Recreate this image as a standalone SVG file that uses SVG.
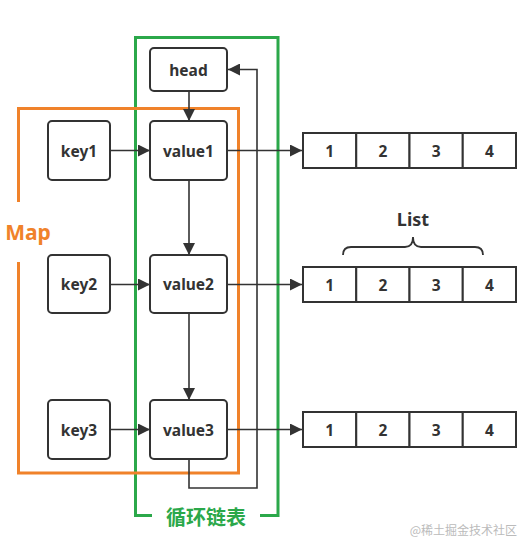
<svg xmlns="http://www.w3.org/2000/svg" width="532" height="550" viewBox="0 0 532 550">
<defs>
<marker id="ah" viewBox="0 0 10 10" refX="10" refY="5" markerWidth="12" markerHeight="12" markerUnits="userSpaceOnUse" orient="auto">
<path d="M0,0 L10,5 L0,10 Z" fill="#333"/>
</marker>
<style>
.node{fill:#fff;stroke:#333;stroke-width:2}
.cell{fill:#fff;stroke:#333;stroke-width:2}
.lbl{font-family:"Noto Sans","Open Sans",sans-serif;font-weight:bold;font-size:15.5px;fill:#333;text-anchor:middle;dominant-baseline:central}
.conn{fill:none;stroke:#333;stroke-width:1.6}
</style>
</defs>
<rect width="532" height="550" fill="#fff"/>
<!-- green linked list frame -->
<g id="linkedlist-frame">
<path d="M152,515.5 H135.5 V37.5 H278 V515.5 H260" fill="none" stroke="#2ba84a" stroke-width="3"/>
<text x="206" y="516" font-family="'Noto Sans CJK SC',sans-serif" font-weight="bold" font-size="20" fill="#2ba84a" text-anchor="middle" dominant-baseline="central">循环链表</text>
</g>
<!-- orange map frame -->
<g id="map-frame">
<path d="M18.5,202 V108.5 H238.5 V473 H18.5 V262" fill="none" stroke="#f0822a" stroke-width="3"/>
<text x="28" y="232" font-family="'Noto Sans','Open Sans',sans-serif" font-weight="bold" font-size="21" fill="#f0822a" text-anchor="middle" dominant-baseline="central">Map</text>
</g>
<g id="connectors">
<line class="conn" x1="110" y1="150.5" x2="150" y2="150.5" marker-end="url(#ah)"/>
<line class="conn" x1="110" y1="284.5" x2="150" y2="284.5" marker-end="url(#ah)"/>
<line class="conn" x1="110" y1="429.5" x2="150" y2="429.5" marker-end="url(#ah)"/>
<line class="conn" x1="189" y1="91" x2="189" y2="121" marker-end="url(#ah)"/>
<line class="conn" x1="189" y1="180" x2="189" y2="255" marker-end="url(#ah)"/>
<line class="conn" x1="189" y1="313" x2="189" y2="400" marker-end="url(#ah)"/>
<path class="conn" d="M189,459 V488 H257 V69.5 H228" stroke="#555" marker-end="url(#ah)"/>
<line class="conn" x1="227" y1="150.5" x2="302" y2="150.5" marker-end="url(#ah)"/>
<line class="conn" x1="227" y1="284.5" x2="302" y2="284.5" marker-end="url(#ah)"/>
<line class="conn" x1="227" y1="429.5" x2="302" y2="429.5" marker-end="url(#ah)"/>
</g>
<g id="head"><rect class="node" x="150" y="48" width="77" height="43" rx="4"/><text class="lbl" x="188.5" y="69.5">head</text></g>
<g id="key1"><rect class="node" x="48" y="121" width="62" height="59" rx="4"/><text class="lbl" x="79" y="150.5">key1</text></g>
<g id="value1"><rect class="node" x="150" y="121" width="77" height="59" rx="4"/><text class="lbl" x="188.5" y="150.5">value1</text></g>
<g id="key2"><rect class="node" x="48" y="255" width="62" height="58" rx="4"/><text class="lbl" x="79" y="284">key2</text></g>
<g id="value2"><rect class="node" x="150" y="255" width="77" height="58" rx="4"/><text class="lbl" x="188.5" y="284">value2</text></g>
<g id="key3"><rect class="node" x="48" y="400" width="62" height="59" rx="4"/><text class="lbl" x="79" y="429.5">key3</text></g>
<g id="value3"><rect class="node" x="150" y="400" width="77" height="59" rx="4"/><text class="lbl" x="188.5" y="429.5">value3</text></g>
<g id="list1">
<rect class="cell" x="303" y="133" width="53.25" height="35"/><rect class="cell" x="356.25" y="133" width="53.25" height="35"/><rect class="cell" x="409.5" y="133" width="53.25" height="35"/><rect class="cell" x="462.75" y="133" width="53.25" height="35"/>
<text class="lbl" x="329.6" y="150.5">1</text><text class="lbl" x="382.9" y="150.5">2</text><text class="lbl" x="436.1" y="150.5">3</text><text class="lbl" x="489.4" y="150.5">4</text>
</g>
<g id="list-label">
<text x="413" y="219" font-family="'Noto Sans','Open Sans',sans-serif" font-weight="bold" font-size="18" fill="#333" text-anchor="middle" dominant-baseline="central">List</text>
<path d="M343,255 Q343,247 351,247 H405 Q413,247 413,237 Q413,247 421,247 H475 Q483,247 483,255" fill="none" stroke="#333" stroke-width="1.8"/>
</g>
<g id="list2">
<rect class="cell" x="303" y="267" width="53.25" height="35"/><rect class="cell" x="356.25" y="267" width="53.25" height="35"/><rect class="cell" x="409.5" y="267" width="53.25" height="35"/><rect class="cell" x="462.75" y="267" width="53.25" height="35"/>
<text class="lbl" x="329.6" y="284.5">1</text><text class="lbl" x="382.9" y="284.5">2</text><text class="lbl" x="436.1" y="284.5">3</text><text class="lbl" x="489.4" y="284.5">4</text>
</g>
<g id="list3">
<rect class="cell" x="303" y="412" width="53.25" height="35"/><rect class="cell" x="356.25" y="412" width="53.25" height="35"/><rect class="cell" x="409.5" y="412" width="53.25" height="35"/><rect class="cell" x="462.75" y="412" width="53.25" height="35"/>
<text class="lbl" x="329.6" y="429.5">1</text><text class="lbl" x="382.9" y="429.5">2</text><text class="lbl" x="436.1" y="429.5">3</text><text class="lbl" x="489.4" y="429.5">4</text>
</g>
<text x="517" y="529" font-family="'Noto Sans CJK SC',sans-serif" font-size="12" fill="#bbb" text-anchor="end" dominant-baseline="central">@稀土掘金技术社区</text>
</svg>
